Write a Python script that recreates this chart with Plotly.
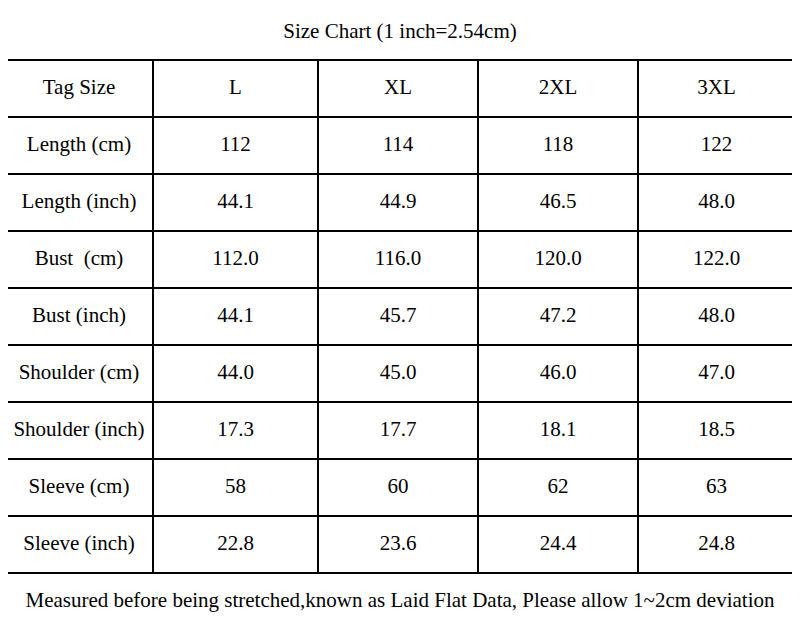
import plotly.graph_objects as go

title = "Size Chart (1 inch=2.54cm)"
footer = "Measured before being stretched,known as Laid Flat Data, Please allow 1~2cm deviation"
header = ["Tag Size", "L", "XL", "2XL", "3XL"]
row_labels = ["Length (cm)", "Length (inch)", "Bust  (cm)", "Bust (inch)", "Shoulder (cm)",
              "Shoulder (inch)", "Sleeve (cm)", "Sleeve (inch)"]
col_L = ["112", "44.1", "112.0", "44.1", "44.0", "17.3", "58", "22.8"]
col_XL = ["114", "44.9", "116.0", "45.7", "45.0", "17.7", "60", "23.6"]
col_2XL = ["118", "46.5", "120.0", "47.2", "46.0", "18.1", "62", "24.4"]
col_3XL = ["122", "48.0", "122.0", "48.0", "47.0", "18.5", "63", "24.8"]

# layout geometry (pixel units of the reference)
col_edges = [5, 153, 318, 478, 638, 795]
row_edges = [5, 60, 117, 174, 231, 288, 345, 402, 459, 516, 573, 630]

columns = [row_labels, col_L, col_XL, col_2XL, col_3XL]
xs, ys, texts = [], [], []
grid_rows = [header] + [[c[i] for c in columns] for i in range(len(row_labels))]
for r, row in enumerate(grid_rows):
    yc = (row_edges[r + 1] + row_edges[r + 2]) / 2
    for c, val in enumerate(row):
        xs.append((col_edges[c] + col_edges[c + 1]) / 2)
        ys.append(yc)
        texts.append(val)
xs += [400, 400]
ys += [(row_edges[0] + row_edges[1]) / 2, (row_edges[-2] + row_edges[-1]) / 2]
texts += [title, footer]

font = dict(family="Liberation Serif", size=21, color="black")
fig = go.Figure(go.Scatter(x=xs, y=ys, text=texts, mode="text", textfont=font,
                           textposition="middle center", hoverinfo="skip"))

lw = 2
fig.add_shape(type="rect", x0=col_edges[0], x1=col_edges[-1], y0=row_edges[0], y1=row_edges[-1],
              line=dict(color="black", width=lw))
for y in row_edges[1:-1]:
    fig.add_shape(type="line", x0=col_edges[0], x1=col_edges[-1], y0=y, y1=y,
                  line=dict(color="black", width=lw))
for x in col_edges[1:-1]:
    fig.add_shape(type="line", x0=x, x1=x, y0=row_edges[1], y1=row_edges[-2],
                  line=dict(color="black", width=lw))

fig.update_xaxes(range=[8, 792], visible=False, fixedrange=True)
fig.update_yaxes(range=[629, 8], visible=False, fixedrange=True)
fig.update_layout(width=784, height=621, margin=dict(l=0, r=0, t=0, b=0),
                  paper_bgcolor="white", plot_bgcolor="white", showlegend=False)
fig.write_html("out.html")
